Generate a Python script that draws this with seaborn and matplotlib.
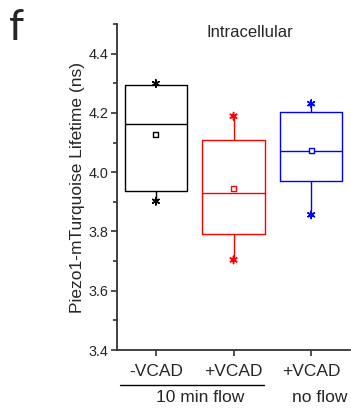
import numpy as np
import pandas as pd
import matplotlib
matplotlib.use("Agg")
import matplotlib.pyplot as plt
import seaborn as sns
from matplotlib.ticker import MultipleLocator

# ---- data ----
conditions = ["-VCAD 10 min flow", "+VCAD 10 min flow", "+VCAD no flow"]
tick_labels = ["-VCAD", "+VCAD", "+VCAD"]
mins = [3.902, 3.704, 3.856]
q1s = [3.936, 3.792, 3.969]
medians = [4.163, 3.930, 4.072]
q3s = [4.295, 4.109, 4.204]
maxs = [4.299, 4.189, 4.231]
means = [4.127, 3.944, 4.072]
colors = ["#000000", "#FF0000", "#0000FF"]

rows = []
for c, a, b, m, d, e in zip(conditions, mins, q1s, medians, q3s, maxs):
    for v in (a, b, m, d, e):
        rows.append({"cond": c, "val": v})
df = pd.DataFrame(rows)

sns.set_theme(style="ticks")
plt.rcParams["font.family"] = ["Liberation Sans", "DejaVu Sans"]

fig = plt.figure(figsize=(3.51, 4.11), dpi=100)
ax = fig.add_axes([0.3333, 0.1484, 0.664, 0.7932])

sns.boxplot(data=df, x="cond", y="val", hue="cond", order=conditions,
            hue_order=conditions, palette=colors, fill=False, whis=(0, 100),
            showcaps=False, width=0.8, linewidth=1.0, legend=False, ax=ax,
            dodge=False)

pos = np.arange(len(conditions))
ax.scatter(pos, means, marker="s", s=12, facecolors="white",
           edgecolors=colors, linewidths=1.0, zorder=5)
ax.scatter(pos, mins, marker=(6, 2, 0), s=28, c=colors, linewidths=1.1, zorder=5)
ax.scatter(pos, maxs, marker=(6, 2, 0), s=28, c=colors, linewidths=1.1, zorder=5)

ax.set_xlim(-0.5, 2.5)
ax.set_ylim(3.4, 4.5)
ax.yaxis.set_minor_locator(MultipleLocator(0.1))
ax.set_yticks([3.4, 3.6, 3.8, 4.0, 4.2, 4.4])
ax.set_yticklabels(["3.4", "3.6", "3.8", "4.0", "4.2", "4.4"])
ax.set_xticks(pos)
ax.set_xticklabels(tick_labels, fontsize=12.5)
ax.tick_params(axis="y", which="major", length=4, width=1.2, labelsize=10.4, pad=2, color="#333333")
ax.tick_params(axis="y", which="minor", length=3, width=1.2, color="#333333")
ax.tick_params(axis="x", which="major", length=4, width=1.2, pad=6, color="#333333")
for s in ["top", "right"]:
    ax.spines[s].set_visible(False)
for s in ["left", "bottom"]:
    ax.spines[s].set_color("#333333")
    ax.spines[s].set_linewidth(1.3)

ax.set_xlabel("")
ax.set_ylabel("Piezo1-mTurquoise Lifetime (ns)", fontsize=12.5, labelpad=3)

ax.text(0.57, 0.975, "Intracellular", transform=ax.transAxes, ha="center",
        va="center", fontsize=12)

fig.text(0.025, 0.978, "f", fontsize=31, ha="left", va="top",
         family=["Lato", "DejaVu Sans"])

# group annotation under the first two labels
fig.add_artist(matplotlib.lines.Line2D([120 / 351, 264 / 351], [1 - 385 / 411, 1 - 385 / 411],
                                       color="black", linewidth=1.0))
fig.text(200 / 351, 1 - 397 / 411, "10 min flow", ha="center", va="center", fontsize=12.5)
fig.text(320 / 351, 1 - 397 / 411, "no flow", ha="center", va="center", fontsize=12.5)

fig.savefig("out.png", dpi=100)
